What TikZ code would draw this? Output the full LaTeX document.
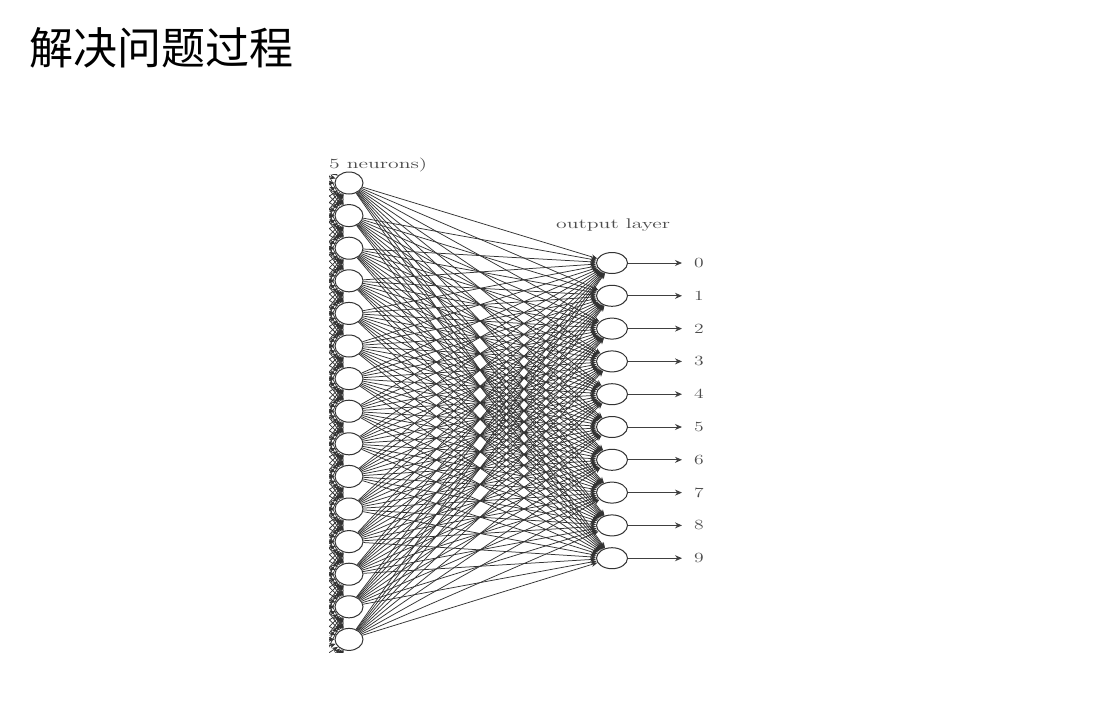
\documentclass[tikz,border=0pt]{standalone}
\usepackage{fontspec}
\usepackage{graphicx}
\newfontfamily\cjk{Noto Sans CJK SC}
\usetikzlibrary{arrows.meta,shapes.geometric,calc}
\begin{document}
\begin{tikzpicture}[x=1pt,y=-1pt,
  hid/.style={draw=black!80,line width=1pt,ellipse,minimum width=28pt,minimum height=22pt,inner sep=0pt},
  outn/.style={draw=black!80,line width=1pt,ellipse,minimum width=31pt,minimum height=21pt,inner sep=0pt},
  wire/.style={black!80,line width=0.75pt,-{Stealth[length=6pt,width=5pt]}},
  outarrow/.style={black!75,line width=0.9pt,-{Stealth[length=7pt,width=6pt]}},
  lbl/.style={inner sep=0pt,text=black!70,font=\fontsize{14}{14}\selectfont},
]
\useasboundingbox (0,0) rectangle (1114,724);
\fill[white] (0,0) rectangle (1114,724);
% title
\node[anchor=west,inner sep=0pt,font=\cjk\fontsize{44}{44}\selectfont] (title) at (29,48) {解决问题过程};
% hidden layer
\foreach \i in {1,...,15}{
  \node[hid] (h\i) at (349,{183+(\i-1)*32.6}) {};
}
% output layer
\foreach \i [evaluate=\i as \d using int(\i-1)] in {1,...,10}{
  \node[outn] (o\i) at (612,{263+(\i-1)*32.8}) {};
  \coordinate (a\i) at (682,{263+(\i-1)*32.8});
  \node[lbl,anchor=west] (d\i) at (694,{263+(\i-1)*32.8}) {\scalebox{1.4}[1]{\d}};
  \draw[outarrow] (o\i) -- (a\i);
}
% incoming arrows (clipped)
\begin{scope}
\clip (329,174) rectangle (1114,652);
\foreach \i in {1,...,15}{
  \foreach \k in {-6,...,6}{
    \coordinate (s\i-\k) at ($(h\i.center)+(-120,{\k*40})$);
    \draw[wire] (s\i-\k) -- (h\i);
  }
}
\end{scope}
\begin{scope}
\clip (329,157) rectangle (1114,652);
\node[lbl,anchor=base west] (hlabel) at (310,168) {\scalebox{1.55}[1]{(15 neurons)}};
\end{scope}
% connections hidden -> output
\foreach \i in {1,...,15}{
  \foreach \j in {1,...,10}{
    \draw[wire] (h\i) -- (o\j);
  }
}
\node[lbl,anchor=base west] (olabel) at (556,228) {\scalebox{1.55}[1]{output layer}};
\end{tikzpicture}
\end{document}
